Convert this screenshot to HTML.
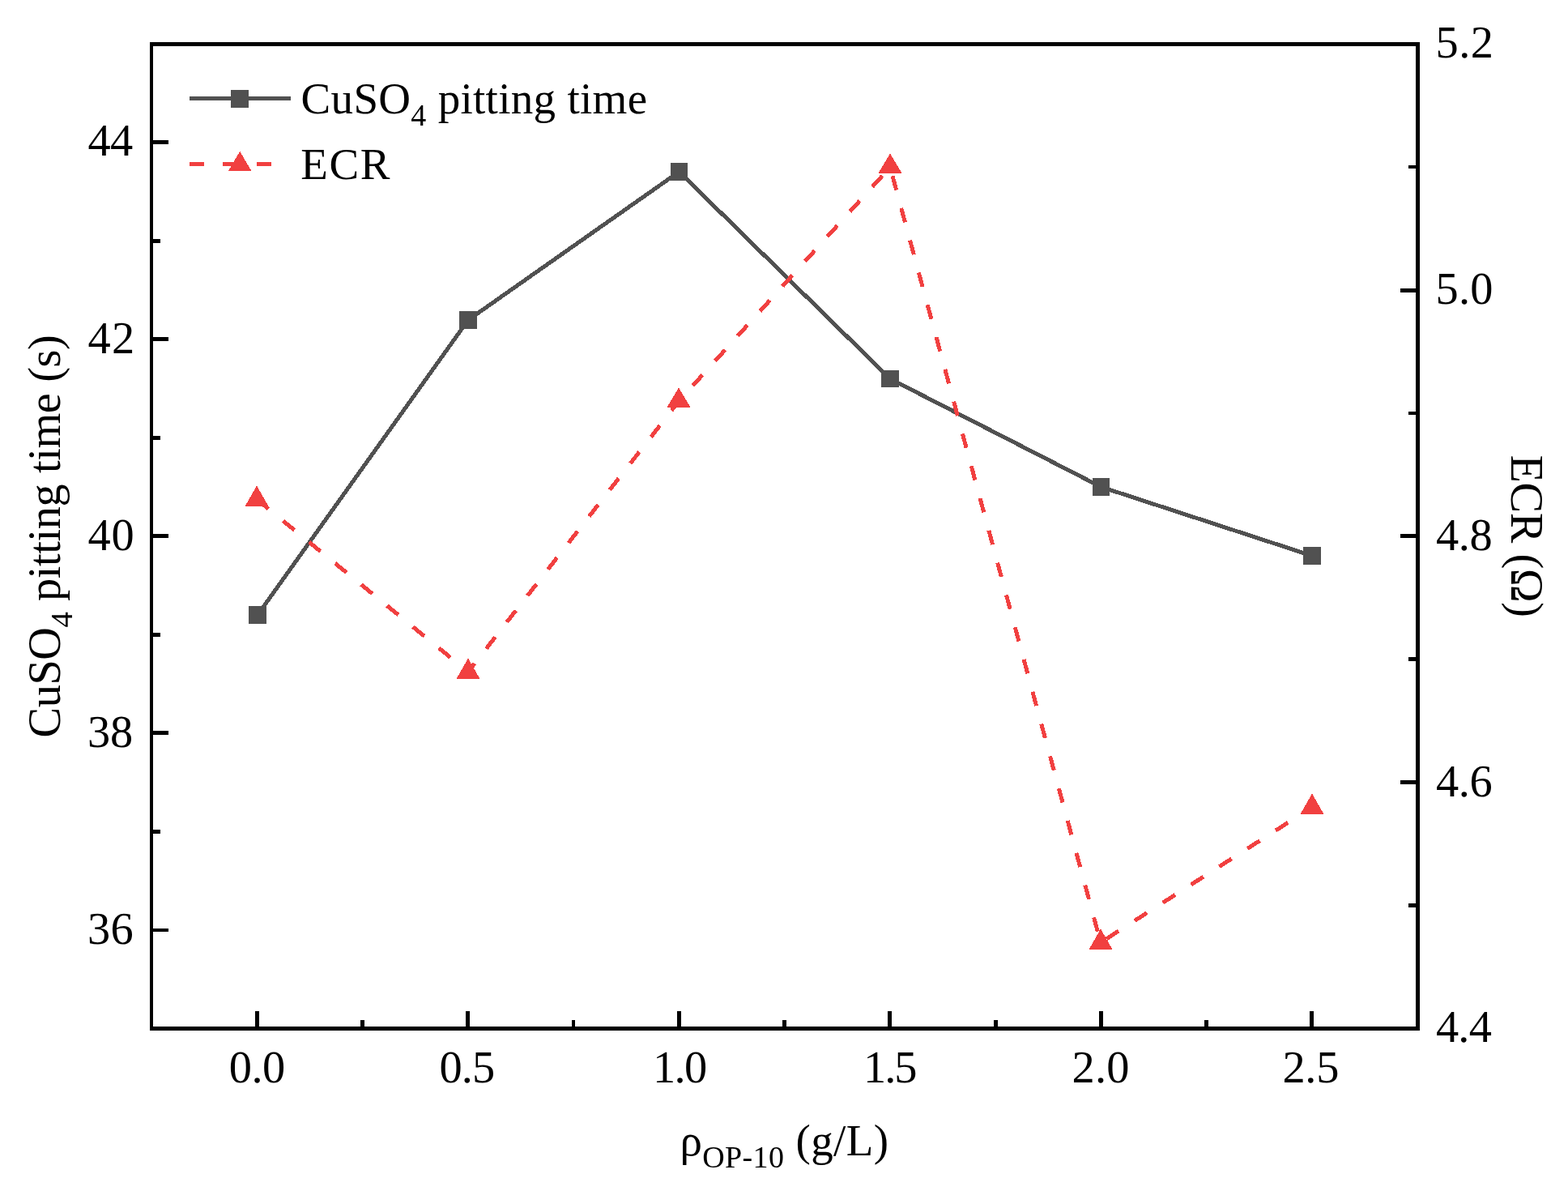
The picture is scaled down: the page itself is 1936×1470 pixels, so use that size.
<!DOCTYPE html>
<html lang="en"><head><meta charset="utf-8"><title>CuSO4 pitting time and ECR vs OP-10 concentration</title>
<style>html,body{margin:0;padding:0;background:#fff;}body{width:1936px;height:1470px;overflow:hidden;}svg{display:block;}text{font-family:"Liberation Serif","DejaVu Serif",serif;fill:#000;}</style></head><body>
<svg width="1936" height="1470" viewBox="0 0 1936 1470">
<rect x="0" y="0" width="1936" height="1470" fill="#fff"/>
<polyline points="318.0,759.0 578.0,395.0 838.5,212.0 1099.0,467.5 1359.5,601.0 1620.0,686.0" fill="none" stroke="#515151" stroke-width="5" stroke-linejoin="round" shape-rendering="crispEdges"/>
<g fill="none" stroke="#f14040" stroke-width="5" shape-rendering="crispEdges">
<line x1="317.0" y1="616.3" x2="578.0" y2="829.3" stroke-dasharray="18 23.37" stroke-dashoffset="40.57"/>
<line x1="578.0" y1="829.3" x2="838.0" y2="495.3" stroke-dasharray="18 23.37" stroke-dashoffset="4.92"/>
<line x1="838.0" y1="495.3" x2="1099.0" y2="206.3" stroke-dasharray="18 23.37" stroke-dashoffset="15.49"/>
<line x1="1099.0" y1="206.3" x2="1359.0" y2="1163.3" stroke-dasharray="18 23.23" stroke-dashoffset="29.97"/>
<line x1="1359.0" y1="1163.3" x2="1620.0" y2="996.3" stroke-dasharray="18 23.37" stroke-dashoffset="32.98"/>
</g>
<rect x="307" y="748" width="22" height="22" fill="#515151" shape-rendering="crispEdges"/>
<rect x="567" y="384" width="22" height="22" fill="#515151" shape-rendering="crispEdges"/>
<rect x="828" y="201" width="21" height="22" fill="#515151" shape-rendering="crispEdges"/>
<rect x="1088" y="457" width="22" height="21" fill="#515151" shape-rendering="crispEdges"/>
<rect x="1349" y="590" width="21" height="22" fill="#515151" shape-rendering="crispEdges"/>
<rect x="1609" y="675" width="22" height="22" fill="#515151" shape-rendering="crispEdges"/>
<polygon points="317.0,599.4 302.4,625.0 331.6,625.0" fill="#f14040" shape-rendering="crispEdges"/>
<polygon points="578.0,812.4 563.4,838.0 592.6,838.0" fill="#f14040" shape-rendering="crispEdges"/>
<polygon points="838.0,478.4 823.4,503.0 852.6,503.0" fill="#f14040" shape-rendering="crispEdges"/>
<polygon points="1099.0,189.4 1084.4,214.0 1113.6,214.0" fill="#f14040" shape-rendering="crispEdges"/>
<polygon points="1359.0,1146.4 1344.4,1172.0 1373.6,1172.0" fill="#f14040" shape-rendering="crispEdges"/>
<polygon points="1620.0,979.4 1605.4,1005.0 1634.6,1005.0" fill="#f14040" shape-rendering="crispEdges"/>
<g fill="#000" shape-rendering="crispEdges">
<rect x="185" y="52" width="4" height="1220"/>
<rect x="185" y="52" width="1568" height="5"/>
<rect x="1748" y="52" width="5" height="1220"/>
<rect x="185" y="1267" width="1568" height="5"/>
<rect x="189" y="173" width="19" height="5"/>
<rect x="189" y="295" width="9" height="5"/>
<rect x="189" y="416" width="19" height="5"/>
<rect x="189" y="538" width="9" height="5"/>
<rect x="189" y="659" width="19" height="5"/>
<rect x="189" y="781" width="9" height="5"/>
<rect x="189" y="902" width="19" height="5"/>
<rect x="189" y="1024" width="9" height="5"/>
<rect x="189" y="1146" width="19" height="4"/>
<rect x="1739" y="204" width="9" height="4"/>
<rect x="1729" y="356" width="19" height="5"/>
<rect x="1739" y="508" width="9" height="4"/>
<rect x="1729" y="659" width="19" height="5"/>
<rect x="1739" y="811" width="9" height="5"/>
<rect x="1729" y="963" width="19" height="5"/>
<rect x="1739" y="1115" width="9" height="5"/>
<rect x="315" y="1248" width="5" height="19"/>
<rect x="445" y="1259" width="5" height="8"/>
<rect x="575" y="1248" width="5" height="19"/>
<rect x="706" y="1259" width="4" height="8"/>
<rect x="836" y="1248" width="5" height="19"/>
<rect x="966" y="1259" width="5" height="8"/>
<rect x="1096" y="1248" width="5" height="19"/>
<rect x="1227" y="1259" width="5" height="8"/>
<rect x="1357" y="1248" width="5" height="19"/>
<rect x="1487" y="1259" width="5" height="8"/>
<rect x="1617" y="1248" width="5" height="19"/>
</g>
<g font-size="56.4" text-rendering="geometricPrecision">
<text x="108.4" y="192" letter-spacing="-0.7">44</text>
<text x="108.4" y="436" letter-spacing="1.4">42</text>
<text x="108.4" y="679" letter-spacing="0.9">40</text>
<text x="108.0" y="922" letter-spacing="-0.1">38</text>
<text x="108.0" y="1165" letter-spacing="0.3">36</text>
<text x="1772.6" y="70.6" letter-spacing="0.47">5.2</text>
<text x="1772.6" y="374.8" letter-spacing="0.22">5.0</text>
<text x="1773.0" y="678.6" letter-spacing="-0.35">4.8</text>
<text x="1773.0" y="982.6" letter-spacing="-0.35">4.6</text>
<text x="1773.0" y="1285.6" letter-spacing="-0.83">4.4</text>
<text x="282.7" y="1335.5" letter-spacing="-0.48">0.0</text>
<text x="542.6" y="1335.5" letter-spacing="-0.98">0.5</text>
<text x="805.9" y="1335.5" letter-spacing="-1.53">1.0</text>
<text x="1066.0" y="1335.5" letter-spacing="-1.98">1.5</text>
<text x="1323.6" y="1335.5" letter-spacing="0.17">2.0</text>
<text x="1583.4" y="1335.5" letter-spacing="-0.23">2.5</text>
</g>
<g font-size="55">
<text x="839.4" y="1426" letter-spacing="0.38">ρ<tspan font-size="38" dy="15">OP-10</tspan><tspan dy="-15"> (g/L)</tspan></text>
<text x="371.6" y="140" letter-spacing="0.3">CuSO<tspan font-size="38" dy="15">4</tspan><tspan dy="-15"> pitting time</tspan></text>
<text x="371.3" y="221" letter-spacing="1.55">ECR</text>
</g>
<g font-size="56.3">
<text transform="translate(73.8 910.5) rotate(-90)" letter-spacing="-0.4">CuSO<tspan font-size="38.5" dy="15">4</tspan><tspan dy="-15"> pitting time (s)</tspan></text>
<text transform="translate(1865.6 561.5) rotate(90)" letter-spacing="-0.4">ECR (Ω)</text>
</g>
<rect x="234" y="119" width="125" height="5" fill="#515151" shape-rendering="crispEdges"/>
<rect x="285" y="111" width="22" height="22" fill="#515151" shape-rendering="crispEdges"/>
<g fill="#f14040" shape-rendering="crispEdges"><rect x="234" y="200" width="18" height="5"/><rect x="275" y="200" width="18" height="5"/><rect x="317" y="200" width="18" height="5"/></g>
<polygon points="296.2,186.8 282,211 310.4,211" fill="#f14040" shape-rendering="crispEdges"/>
</svg></body></html>
